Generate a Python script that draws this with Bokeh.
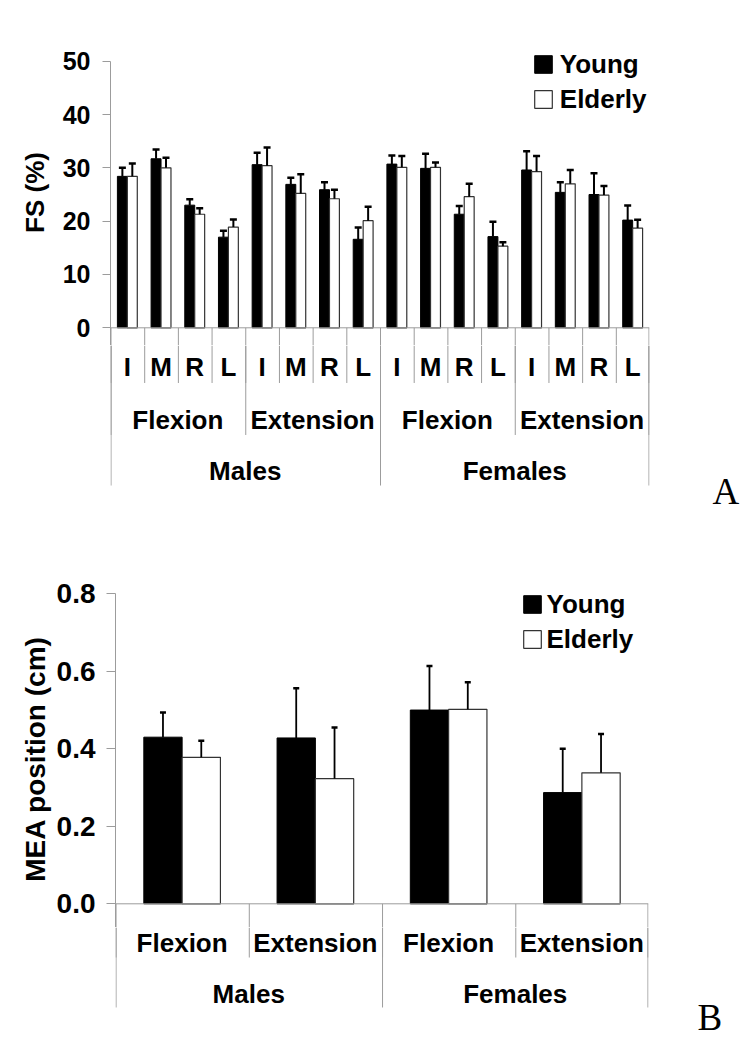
from bokeh.plotting import figure
from bokeh.models import (ColumnDataSource, FactorRange, Range1d, FixedTicker, Span,
                          Legend, LegendItem, LinearAxis, PrintfTickFormatter)
from bokeh.transform import dodge
from bokeh.layouts import column
from bokeh.core.properties import value
from bokeh.embed import file_html
from bokeh.resources import INLINE

# ---------------- data ----------------
sexes = ["Males", "Females"]
movements = ["Flexion", "Extension"]
fingers = ["I", "M", "R", "L"]

# Panel A: FS (%)
fs_young = [28.4, 31.7, 23.0, 17.0, 30.6, 26.9, 25.9, 16.6,
            30.7, 29.9, 21.3, 17.1, 29.6, 25.4, 25.0, 20.2]
fs_young_err = [1.6, 1.75, 1.1, 1.2, 2.25, 1.25, 1.4, 2.2,
                1.6, 2.75, 1.55, 2.8, 3.5, 1.9, 4.0, 2.75]
fs_elderly = [28.4, 30.0, 21.3, 18.9, 30.4, 25.2, 24.2, 20.1,
              30.1, 30.1, 24.6, 15.3, 29.3, 27.0, 24.9, 18.7]
fs_elderly_err = [2.4, 1.9, 1.1, 1.4, 3.4, 3.6, 1.7, 2.6,
                  2.1, 0.9, 2.4, 0.75, 2.9, 2.6, 1.7, 1.55]
fs_ticks = [0, 10, 20, 30, 40, 50]

# Panel B: MEA position (cm)
mea_young = [0.430, 0.428, 0.500, 0.287]
mea_young_err = [0.064, 0.128, 0.114, 0.113]
mea_elderly = [0.378, 0.323, 0.502, 0.338]
mea_elderly_err = [0.043, 0.132, 0.070, 0.100]
mea_ticks = [0.0, 0.2, 0.4, 0.6, 0.8]

# ---------------- style ----------------
FONT = "Liberation Sans"
GRAY = "#9c9c9c"
W = 742


def new_fig(height, x_range, y_range, left, right, top, bottom, yaxis=True):
    p = figure(width=W, height=height, x_range=x_range, y_range=y_range,
               x_axis_location=None, y_axis_location="left" if yaxis else None,
               toolbar_location=None, output_backend="svg",
               min_border_left=left, min_border_right=right,
               min_border_top=top, min_border_bottom=bottom)
    p.outline_line_color = None
    p.grid.visible = False
    return p


def style_yaxis(ax, ticks, lo, size, standoff, tick_len, title, title_size, title_standoff):
    ax.ticker = FixedTicker(ticks=ticks, minor_ticks=[])
    ax.bounds = (lo, ticks[-1])
    ax.axis_line_color = GRAY
    ax.major_tick_line_color = GRAY
    ax.major_tick_out = tick_len
    ax.major_tick_in = 0
    ax.minor_tick_line_color = None
    ax.major_label_text_font = FONT
    ax.major_label_text_font_size = size
    ax.major_label_text_font_style = "bold"
    ax.major_label_text_color = "black"
    ax.major_label_standoff = standoff
    ax.axis_label = title
    ax.axis_label_text_font = FONT
    ax.axis_label_text_font_size = title_size
    ax.axis_label_text_font_style = "bold"
    ax.axis_label_text_color = "black"
    ax.axis_label_standoff = title_standoff


def add_bars(p, src, off, width, cap, stem_w, cap_w):
    ry = p.vbar(x=dodge("x", -off, range=p.x_range), top="young", bottom=0, width=width,
                source=src, fill_color="black", line_color="black", line_width=1)
    re = p.vbar(x=dodge("x", off, range=p.x_range), top="elderly", bottom=0, width=width,
                source=src, fill_color="white", line_color="#333333", line_width=1.2)
    for col, o in (("young", -off), ("elderly", off)):
        xx = dodge("x", o, range=p.x_range)
        p.segment(x0=xx, y0=col, x1=xx, y1=col + "_hi", source=src,
                  line_color="black", line_width=stem_w)
        p.scatter(x=xx, y=col + "_hi", marker="dash", size=cap, line_width=cap_w,
                  line_color="black", source=src)
    return ry, re


def add_legend(p, ry, re, loc, standoff):
    leg = Legend(items=[LegendItem(label="Young", renderers=[ry]),
                        LegendItem(label="Elderly", renderers=[re])],
                 location=loc, margin=0, padding=0, spacing=4,
                 glyph_width=22, glyph_height=22, label_standoff=standoff,
                 label_height=22,
                 label_text_font=FONT, label_text_font_size="26px",
                 label_text_font_style="bold", label_text_color="black",
                 border_line_color=None, background_fill_alpha=0)
    p.add_layout(leg)


def txt(p, xs, y, texts):
    p.text(x=xs, y=[y] * len(xs), text=texts, text_font=value(FONT),
           text_font_size="26px", text_font_style="bold", text_color="black",
           text_align="center", text_baseline="middle")


def seps(p, xs, y0, y1):
    p.segment(x0=xs, y0=[y0] * len(xs), x1=xs, y1=[y1] * len(xs),
              line_color=GRAY, line_width=1)


def panel_letter(p, y, letter, standoff):
    ax = LinearAxis(ticker=FixedTicker(ticks=[y], minor_ticks=[]),
                    formatter=PrintfTickFormatter(format=letter),
                    axis_line_color=None, major_tick_line_color=None,
                    minor_tick_line_color=None, major_tick_out=0, major_tick_in=0,
                    major_label_standoff=standoff,
                    major_label_text_font="Liberation Serif",
                    major_label_text_font_size="37px",
                    major_label_text_color="black")
    p.add_layout(ax, "right")


# ================= Panel A =================
factors_a = [(s, m, f) for s in sexes for m in movements for f in fingers]
src_a = ColumnDataSource(dict(
    x=factors_a, young=fs_young, elderly=fs_elderly,
    young_hi=[v + e for v, e in zip(fs_young, fs_young_err)],
    elderly_hi=[v + e for v, e in zip(fs_elderly, fs_elderly_err)]))

xr_a = FactorRange(factors=factors_a, factor_padding=0, subgroup_padding=0,
                   group_padding=0, range_padding=0)
A1_LO, A1_HI = -3.3196, 54.07
A2_LO = -34.265

a1 = new_fig(345, xr_a, Range1d(A1_LO, A1_HI), 110, 90, 39, 0)
style_yaxis(a1.yaxis[0], fs_ticks, A1_LO, "25px", 12, 8, "FS (%)", "26px", 10)
a1.add_layout(Span(location=0, dimension="width", line_color=GRAY, line_width=1))
ryA, reA = add_bars(a1, src_a, 0.1475, 0.295, 7, 2, 2.5)

lvl1 = [f + (-0.485,) for f in factors_a] + [factors_a[-1] + (0.485,)]
lvl2 = [(s, m, fingers[0], -0.485) for s in sexes for m in movements] + [factors_a[-1] + (0.485,)]
lvl3 = [(s, movements[0], fingers[0], -0.485) for s in sexes] + [factors_a[-1] + (0.485,)]
seps(a1, lvl1, 0, A1_LO)
add_legend(a1, ryA, reA, (421.8, 230.5), 6)

a2 = new_fig(175, xr_a, Range1d(A2_LO, A1_LO), 110, 90, 0, 10, yaxis=False)
seps(a2, lvl1, A1_LO, -10.35)
seps(a2, lvl2, A1_LO, -20.10)
seps(a2, lvl3, A1_LO, -29.58)
txt(a2, factors_a, -7.35, [f[2] for f in factors_a])
txt(a2, [(s, m) for s in sexes for m in movements], -17.29, [m for s in sexes for m in movements])
txt(a2, sexes, -26.86, sexes)
panel_letter(a2, -30.61, "A", 63)

# ================= Panel B =================
factors_b = [(s, m) for s in sexes for m in movements]
src_b = ColumnDataSource(dict(
    x=factors_b, young=mea_young, elderly=mea_elderly,
    young_hi=[v + e for v, e in zip(mea_young, mea_young_err)],
    elderly_hi=[v + e for v, e in zip(mea_elderly, mea_elderly_err)]))

xr_b = FactorRange(factors=factors_b, factor_padding=0, subgroup_padding=0,
                   group_padding=0, range_padding=0)
B1_LO, B1_HI = -0.06116, 0.80852
B2_LO = -0.33987

b1 = new_fig(407, xr_b, Range1d(B1_LO, B1_HI), 115, 94, 70, 0)
style_yaxis(b1.yaxis[0], mea_ticks, B1_LO, "28px", 11, 9, "MEA position (cm)", "28px", 3)
b1.yaxis[0].formatter = PrintfTickFormatter(format="%.1f")
b1.add_layout(Span(location=0, dimension="width", line_color=GRAY, line_width=1))
ryB, reB = add_bars(b1, src_b, 0.14375, 0.2875, 6, 1.8, 2.5)

bl1 = [f + (-0.496,) for f in factors_b] + [factors_b[-1] + (0.496,)]
bl2 = [(s, movements[0], -0.496) for s in sexes] + [factors_b[-1] + (0.496,)]
seps(b1, bl1, 0, B1_LO)
add_legend(b1, ryB, reB, (405.5, 272.5), 4)

b2 = new_fig(113, xr_b, Range1d(B2_LO, B1_LO), 115, 94, 0, 5, yaxis=False)
seps(b2, bl1, B1_LO, -0.13858)
seps(b2, bl2, B1_LO, -0.26761)
txt(b2, factors_b, -0.09987, [m for s in sexes for m in movements])
txt(b2, sexes, -0.23277, sexes)
panel_letter(b2, -0.29342, "B", 49)

col_a = column(a1, a2, spacing=0)
col_b = column(b1, b2, spacing=0)
open("out.html", "w").write(file_html([col_a, col_b], INLINE))
